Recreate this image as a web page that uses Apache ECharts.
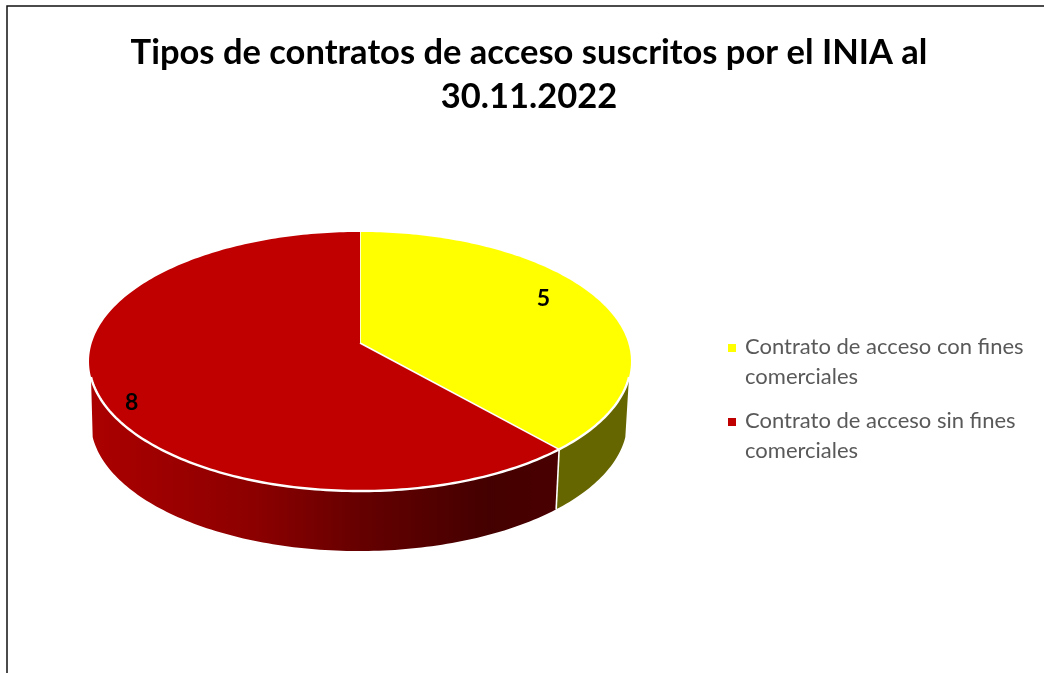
<!DOCTYPE html>
<html>
<head>
<meta charset="utf-8">
<style>
  html, body { margin: 0; padding: 0; background: #fff; }
  #chart { width: 1044px; height: 673px; }
</style>
<script src="https://cdn.jsdelivr.net/npm/echarts@6/dist/echarts.min.js"></script>
</head>
<body>
<div id="chart"></div>
<script>
const categories = ['Contrato de acceso con fines\ncomerciales', 'Contrato de acceso sin fines\ncomerciales']
const values = [5, 8]
const total = values.reduce((a, b) => a + b, 0)

// pie look
const topColors = ['#FFFF00', '#C00000']
const wallFills = [
  '#666600',
  new echarts.graphic.LinearGradient(0, 0, 1, 0, [
    { offset: 0, color: '#ab0000' },
    { offset: 0.35, color: '#8c0000' },
    { offset: 0.58, color: '#650000' },
    { offset: 0.85, color: '#440000' },
    { offset: 1, color: '#4a0000' },
  ]),
]
// where excel put the value labels (turn from slice middle, fraction of radius)
const labelShift = [[-6.5, 0.81], [-8, 0.91]]

// perspective disc: apex at cx/cy, front of the disc nearer than the back
const cx = 360, cy = 343, a = 268.2, b = 126.9, k = 1 / 7
const depth = 60, bottomScale = 0.99, bottomShift = -1
const wallFrom = 105, wallTo = 255 // only this part of the rim faces the viewer

const project = (deg, r = 1, low = false) => {
  const t = deg * Math.PI / 180
  const u = Math.sin(t) * r
  const v = -Math.cos(t) * r
  const w = 1 - k * v
  return [
    cx + (low ? bottomShift + bottomScale * a * u / w : a * u / w),
    cy + b * v / w + (low ? depth : 0),
  ]
}

const arc = (from, to, low) => {
  const pts = []
  const n = Math.max(2, Math.ceil(Math.abs(to - from)))
  for (let i = 0; i <= n; i++) pts.push(project(from + (to - from) * i / n, 1, low))
  return pts
}

const line = (points, width) => ({
  type: 'polyline',
  shape: { points },
  style: { fill: null, stroke: '#fff', lineWidth: width },
})

const makeRender = (idx) => (params, api) => {
  const before = values.slice(0, idx).reduce((s, v) => s + v, 0)
  const start = before / total * 360
  const end = start + api.value(0) / total * 360
  const children = []

  const wStart = Math.max(start, wallFrom)
  const wEnd = Math.min(end, wallTo)
  if (wEnd > wStart) {
    children.push({
      type: 'polygon',
      shape: { points: arc(wStart, wEnd, false).concat(arc(wStart, wEnd, true).reverse()) },
      style: { fill: wallFills[idx] },
    })
  }
  children.push({
    type: 'polygon',
    shape: { points: [[cx, cy]].concat(arc(start, end, false)) },
    style: { fill: topColors[idx] },
  })
  children.push(line([[cx, cy], project(start)], 1.6))
  if (wEnd > wStart) {
    children.push(line(arc(wStart, wEnd, false), 2.4))
    if (start > wallFrom) children.push(line([project(start), project(start, 1, true)], 1.6))
  }
  const mid = (start + end) / 2
  const pos = project(mid + labelShift[idx][0], labelShift[idx][1])
  children.push({
    type: 'text',
    z2: 10,
    style: {
      x: pos[0], y: pos[1],
      text: String(api.value(0)),
      align: 'center', verticalAlign: 'middle',
      font: 'bold 23px Lato', fill: '#000',
    },
  })
  return { type: 'group', children }
}

const legendIcon = 'path://M0,12H8V20H0Z M0,0L0,0 M12,60L12,60'

const chart = echarts.init(document.getElementById('chart'), null, { renderer: 'canvas' })
chart.setOption({
  animation: false,
  backgroundColor: '#fff',
  title: {
    text: 'Tipos de contratos de acceso suscritos por el INIA al\n30.11.2022',
    left: 524,
    top: 26,
    textAlign: 'center',
    textStyle: { fontFamily: 'Lato', fontWeight: 'bold', fontSize: 34.5, lineHeight: 44, color: '#000' },
  },
  legend: {
    orient: 'vertical',
    left: 728,
    top: 332,
    padding: 0,
    itemWidth: 12,
    itemHeight: 60,
    itemGap: 14,
    selectedMode: false,
    textStyle: { fontFamily: 'Lato', fontSize: 22, lineHeight: 30, color: '#595959' },
    data: categories.map((name) => ({ name, icon: legendIcon })),
  },
  graphic: [{
    type: 'rect',
    silent: true,
    shape: { x: 7, y: 6, width: 1100, height: 720 },
    style: { fill: null, stroke: '#111', lineWidth: 1.5 },
  }],
  series: categories.map((name, i) => ({
    type: 'custom',
    name,
    coordinateSystem: 'none',
    silent: true,
    itemStyle: { color: topColors[i] },
    renderItem: makeRender(i),
    data: [[values[i]]],
  })),
})
</script>
</body>
</html>
